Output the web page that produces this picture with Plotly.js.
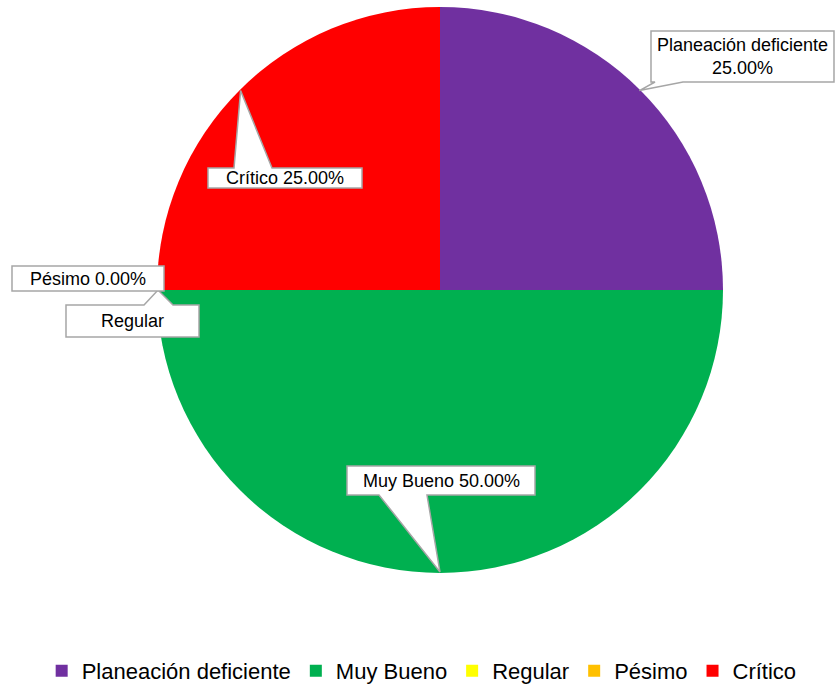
<!DOCTYPE html>
<html>
<head>
<meta charset="utf-8">
<script src="https://cdn.plot.ly/plotly-3.0.1.min.js"></script>
<style>html,body{margin:0;padding:0;background:#fff;}#chart{width:835px;height:692px;}</style>
</head>
<body>
<div id="chart"></div>
<script>
// ---- data ----
const labels = ['Planeación deficiente', 'Muy Bueno', 'Regular', 'Pésimo', 'Crítico'];
const values = [25, 50, 0, 0, 25];
const colors = ['#7030A0', '#00B050', '#FFFF00', '#FFC000', '#FF0000'];

// ---- layout helpers ----
const W = 835, H = 692;
const pie = {x0: 157, x1: 723, y0: 7, y1: 573};
const cx = (pie.x0 + pie.x1) / 2, cy = (pie.y0 + pie.y1) / 2, R = (pie.x1 - pie.x0) / 2;

// callout boxes (pixel positions), keyed by label
const callouts = {
  'Planeación deficiente': {box: [651, 31, 834, 82], edge: 'bottom', base: [655, 683], fmt: 'two'},
  'Muy Bueno': {box: [347, 466, 535, 495], edge: 'bottom', base: [379, 427], fmt: 'one'},
  'Regular': {box: [66, 305, 199, 337], edge: 'top', base: [144, 173], fmt: 'name'},
  'Pésimo': {box: [12, 266, 164, 291], edge: 'none', base: null, fmt: 'one'},
  'Crítico': {box: [208, 168, 362, 188], edge: 'top', base: [234, 272], fmt: 'one'}
};

const px = x => x / W;
const py = y => 1 - y / H;

const total = values.reduce((a, b) => a + b, 0);
let cum = 0;
const shapes = [], annotations = [];
labels.forEach((lab, i) => {
  const mid = (cum + values[i] / 2) / total * 2 * Math.PI; // clockwise from 12 o'clock
  cum += values[i];
  const tip = [cx + (R - 1) * Math.sin(mid), cy - (R - 1) * Math.cos(mid)];
  const c = callouts[lab];
  const [x0, y0, x1, y1] = c.box;
  let pts;
  if (c.edge === 'bottom') {
    pts = [[x0, y0], [x1, y0], [x1, y1], [c.base[1], y1], tip, [c.base[0], y1], [x0, y1]];
  } else if (c.edge === 'top') {
    pts = [[x0, y0], [c.base[0], y0], tip, [c.base[1], y0], [x1, y0], [x1, y1], [x0, y1]];
  } else {
    pts = [[x0, y0], [x1, y0], [x1, y1], [x0, y1]];
  }
  const path = 'M' + pts.map(p => px(p[0]).toFixed(5) + ',' + py(p[1]).toFixed(5)).join('L') + 'Z';
  shapes.push({
    type: 'path', xref: 'paper', yref: 'paper', path: path,
    fillcolor: '#FFFFFF', line: {color: '#A6A6A6', width: 1.5}, layer: 'above'
  });
  const pct = (values[i] / total * 100).toFixed(2) + '%';
  let txt = c.fmt === 'two' ? lab + '<br>' + pct : (c.fmt === 'name' ? lab : lab + ' ' + pct);
  annotations.push({
    xref: 'paper', yref: 'paper', x: px((x0 + x1) / 2), y: py((y0 + y1) / 2),
    xanchor: 'center', yanchor: 'middle', showarrow: false, text: txt,
    font: {family: 'Arial, "Liberation Sans", sans-serif', size: 18, color: '#000000'}
  });
});

const trace = {
  type: 'pie',
  labels: labels,
  values: values,
  sort: false,
  direction: 'clockwise',
  rotation: 0,
  textinfo: 'none',
  hoverinfo: 'label+percent',
  marker: {colors: colors, line: {width: 0}},
  domain: {x: [px(pie.x0), px(pie.x1)], y: [py(pie.y1), py(pie.y0)]}
};

const layout = {
  width: W, height: H,
  margin: {l: 0, r: 0, t: 0, b: 0},
  paper_bgcolor: '#FFFFFF',
  showlegend: true,
  legend: {
    orientation: 'h', x: 0.505, xanchor: 'center', y: 0.0, yanchor: 'bottom',
    font: {family: 'Arial, "Liberation Sans", sans-serif', size: 22, color: '#000000'},
    itemclick: false, itemdoubleclick: false, traceorder: 'normal'
  },
  shapes: shapes,
  annotations: annotations
};

Plotly.newPlot('chart', [trace], layout, {displayModeBar: false, staticPlot: true});
</script>
</body>
</html>
